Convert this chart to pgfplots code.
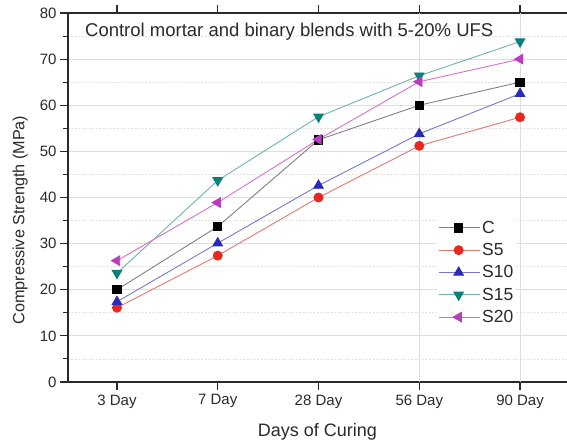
\documentclass[border=0pt]{standalone}
\usepackage{pgfplots}
\pgfplotsset{compat=1.18}
\usepackage{fontspec}
\setmainfont{Liberation Sans}

\definecolor{txt}{HTML}{2A2A2A}
\definecolor{gridc}{HTML}{DEDEDE}
\definecolor{gridm}{HTML}{E2E2E2}
\definecolor{cLine}{HTML}{808080}
\definecolor{cMark}{HTML}{000000}
\definecolor{sfiveLine}{HTML}{E07A70}
\definecolor{sfiveMark}{HTML}{E8281E}
\definecolor{stenLine}{HTML}{7878D0}
\definecolor{stenMark}{HTML}{2A2AB8}
\definecolor{sfifLine}{HTML}{70B2AA}
\definecolor{sfifMark}{HTML}{0A807A}
\definecolor{stwLine}{HTML}{D070D0}
\definecolor{stwMark}{HTML}{B83CC0}

\begin{document}
\begin{tikzpicture}
\begin{axis}[
  name=ax,
  scale only axis,
  width=499pt, height=369pt,
  xmin=-0.486, xmax=4.466,
  ymin=0, ymax=80,
  axis x line*=box, axis y line*=left,
  axis line style={line width=1.3pt, draw=txt, -},
  x axis line style={-}, y axis line style={-},
  tick align=outside,
  tick style={line width=1.1pt, draw=txt},
  major tick length=8pt, minor tick length=5pt,
  xtick={0,1,2,3,4},
  xticklabels={3 Day,7 Day,28 Day,56 Day,90 Day},
  % vertical guides only at the two late curing ages
  extra x ticks={3,4},
  extra x tick labels={},
  extra x tick style={xmajorgrids=true},
  ytick={0,10,...,80},
  minor ytick={5,15,...,75},
  ymajorgrids, yminorgrids,
  major grid style={gridc, line width=0.8pt},
  minor grid style={gridm, dash pattern=on 2pt off 1.5pt, line width=0.7pt},
  /pgf/number format/assume math mode=true,
  ticklabel style={font=\fontsize{15}{18}\selectfont, text=txt},
  xticklabel style={yshift=-1pt},
  xlabel={Days of Curing},
  ylabel={Compressive Strength (MPa)},
  xlabel style={font=\fontsize{18}{21}\selectfont, text=txt,
    at={(axis description cs:0.5,-0.1355)}, anchor=center},
  ylabel style={font=\fontsize{16.2}{19}\selectfont, text=txt,
    at={(axis description cs:-0.096,0.439)}, anchor=center},
  legend style={at={(rel axis cs:0.7395,0.445)}, anchor=north west,
    draw=none, fill=white, font=\fontsize{17.5}{20}\selectfont, text=txt,
    row sep=4.6pt, inner sep=1pt},
  legend cell align=left,
  legend image code/.code={
    \draw[mark repeat=2,mark phase=2] plot coordinates {(0pt,0pt) (20pt,0pt) (41pt,0pt)};
  },
  every axis plot/.append style={line width=0.9pt},
]
% C: control mortar
\addplot[cLine, mark=square*, mark size=4.2pt, mark options={fill=cMark, draw=cMark}]
  coordinates {(0,20.0) (1,33.7) (2,52.5) (3,60.0) (4,65.0)};
\addlegendentry{C}
% S5
\addplot[sfiveLine, mark=*, mark size=4.5pt, mark options={fill=sfiveMark, draw=sfiveMark}]
  coordinates {(0,16.1) (1,27.4) (2,40.0) (3,51.2) (4,57.4)};
\addlegendentry{S5}
% S10
\addplot[stenLine, mark=triangle*, mark size=5.5pt, mark options={fill=stenMark, draw=stenMark}]
  coordinates {(0,17.4) (1,30.1) (2,42.6) (3,53.8) (4,62.5)};
\addlegendentry{S10}
% S15
\addplot[sfifLine, mark=triangle*, mark size=5.5pt, mark options={fill=sfifMark, draw=sfifMark, rotate=180}]
  coordinates {(0,23.6) (1,43.7) (2,57.5) (3,66.4) (4,73.8)};
\addlegendentry{S15}
% S20
\addplot[stwLine, mark=triangle*, mark size=5.5pt, mark options={fill=stwMark, draw=stwMark, rotate=90}]
  coordinates {(0,26.3) (1,38.9) (2,52.6) (3,65.1) (4,70.0)};
\addlegendentry{S20}

\node[anchor=west, font=\fontsize{18.5}{21}\selectfont, text=txt, inner sep=0pt]
  at (rel axis cs:0.034,0.948) {Control mortar and binary blends with 5-20\% UFS};
\end{axis}
\pgfresetboundingbox
\path (-68pt,-59pt) rectangle (499pt,382pt);
\end{tikzpicture}
\end{document}
